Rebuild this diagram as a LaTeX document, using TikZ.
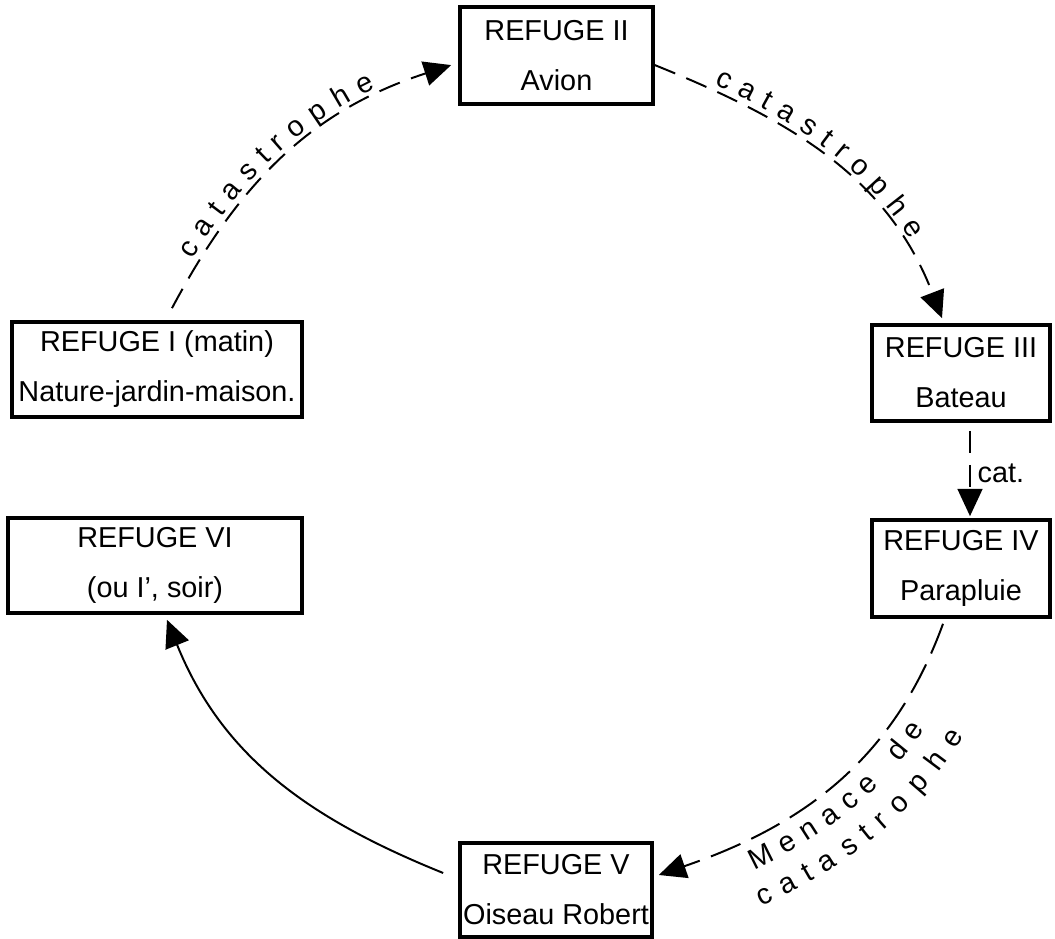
\documentclass[tikz,border=0pt]{standalone}
\usepackage{fontspec}
\setmainfont{Liberation Sans}
\usetikzlibrary{arrows.meta, decorations.text, calc}
\newcommand{\figfont}{\fontsize{20.5}{35.5}\selectfont}

\begin{document}
\begin{tikzpicture}[
    refuge/.style={draw, line width=2.6pt, inner sep=0pt, align=center, font=\figfont},
    link/.style={line width=1.4pt, -{Triangle[length=0.68cm, width=0.62cm]}},
    catdash/.style={dash pattern=on 0.55cm off 0.3cm},
    longdash/.style={dash pattern=on 0.8cm off 0.3cm},
    along/.style={decoration={text along path, text={|\figfont|#1}, text align={left indent=1.3cm}, raise=0.15cm}},
    wide along/.style={along={#1}, decoration={text={|\figfont\spaceskip=0.25cm\relax|#1}}}
  ]
  \useasboundingbox (0,0) rectangle (26.375,23.475);

  \node[refuge, minimum width=7.25cm, minimum height=2.375cm] (r1) at (3.925,14.2375) {REFUGE I (matin)\\Nature-jardin-maison.};
  \node[refuge, minimum width=4.825cm, minimum height=2.425cm] (r2) at (13.9125,22.0875) {REFUGE II\\Avion};
  \node[refuge, minimum width=4.45cm, minimum height=2.4cm] (r3) at (24.025,14.15) {REFUGE III\\Bateau};
  \node[refuge, minimum width=4.45cm, minimum height=2.425cm] (r4) at (24.025,9.2625) {REFUGE IV\\Parapluie};
  \node[refuge, minimum width=4.8cm, minimum height=2.35cm] (r5) at (13.9,1.225) {REFUGE V\\Oiseau Robert};
  \node[refuge, minimum width=7.35cm, minimum height=2.375cm] (r6) at (3.875,9.3375) {REFUGE VI\\(ou I’, soir)};

  \draw[link, catdash, postaction={decorate}, wide along={c a t a s t r o p h e}]
    ([xshift=0.375cm,yshift=0.3cm]r1.north) to[out=62, in=198] ([xshift=-0.175cm,yshift=-0.24cm]r2.west);
  \draw[link, catdash, postaction={decorate}, wide along={c a t a s t r o p h e}, decoration={text align={left indent=1.55cm}}]
    ([yshift=-0.24cm]r2.east) to[out=-22, in=111] ([xshift=-0.475cm,yshift=0.125cm]r3.north);
  \draw[link, catdash] ([xshift=0.225cm,yshift=-0.2cm]r3.south) -- node[right=0.05cm, font=\figfont] {cat.} ([xshift=0.225cm,yshift=0.05cm]r4.north);
  \draw[link, longdash] ([xshift=-0.45cm,yshift=-0.125cm]r4.south) to[out=250, in=19] ([xshift=0.125cm,yshift=0.375cm]r5.east);
  \path[decorate, along={M e n a c e {\hspace{0.25cm}} d e}, decoration={raise=-0.78cm, text align={left indent=2.2cm}}]
    ([xshift=0.125cm,yshift=0.375cm]r5.east) to[out=19, in=250] ([xshift=-0.45cm,yshift=-0.125cm]r4.south);
  \path[decorate, along={c a t a s t r o p h e}, decoration={raise=-1.68cm, text align={left indent=2.0cm}}]
    ([xshift=0.125cm,yshift=0.375cm]r5.east) to[out=19, in=250] ([xshift=-0.45cm,yshift=-0.125cm]r4.south);
  \draw[link] ([xshift=-0.375cm,yshift=0.425cm]r5.west) to[out=158, in=-68] ([xshift=0.3cm,yshift=-0.125cm]r6.south);
\end{tikzpicture}
\end{document}
